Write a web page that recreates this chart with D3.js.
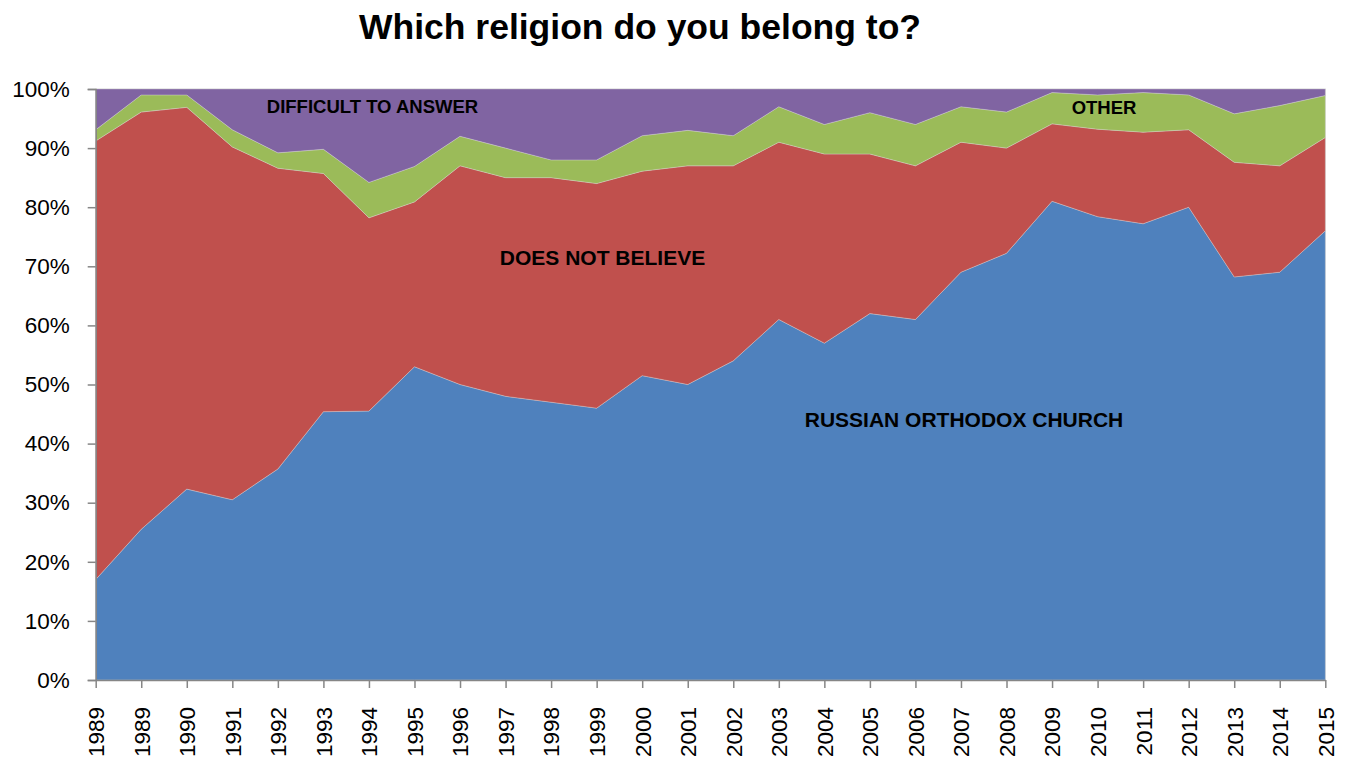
<!DOCTYPE html>
<html>
<head>
<meta charset="utf-8">
<script src="https://cdn.jsdelivr.net/npm/d3@7"></script>
<style>
  html, body { margin: 0; padding: 0; background: #ffffff; }
  svg { display: block; }
</style>
</head>
<body>
<svg id="chart" width="1352" height="760"></svg>
<script>
// ---- Data ----
const categories = ["1989","1989","1990","1991","1992","1993","1994","1995","1996","1997","1998","1999","2000","2001","2002","2003","2004","2005","2006","2007","2008","2009","2010","2011","2012","2013","2014","2015"];
const seriesNames = ["RUSSIAN ORTHODOX CHURCH", "DOES NOT BELIEVE", "OTHER", "DIFFICULT TO ANSWER"];
const orthodox  = [17, 25.5, 32.3, 30.5, 35.7, 45.4, 45.5, 53, 50, 48, 47, 46, 51.5, 50, 54, 61, 57, 62, 61, 69, 72.2, 81, 78.4, 77.2, 80, 68.2, 69, 76];
const notBelieve = [74.2, 70.6, 64.6, 59.7, 50.9, 40.3, 32.7, 27.9, 37, 37, 38, 38, 34.6, 37, 33, 30, 32, 27, 26, 22, 17.8, 13.1, 14.8, 15.5, 13.1, 19.4, 18, 15.8];
const other     = [1.9, 2.9, 2.1, 2.9, 2.6, 4.1, 6, 6, 5, 5, 3, 4, 6, 6, 5.1, 6, 5, 7, 7, 6, 6.1, 5.3, 5.8, 6.7, 5.9, 8.2, 10.2, 7.1];
const difficult = [6.9, 1, 1, 6.9, 10.8, 10.2, 15.8, 13.1, 8, 10, 12, 12, 7.9, 7, 7.9, 3, 6, 4, 6, 3, 3.9, 0.6, 1, 0.6, 1, 4.2, 2.8, 1.1];
const yTicks = [0, 0.1, 0.2, 0.3, 0.4, 0.5, 0.6, 0.7, 0.8, 0.9, 1.0];
const colors = ["#4F81BD", "#C0504D", "#9BBB59", "#8064A2"];
const title = "Which religion do you belong to?";

// ---- Layout ----
const svg = d3.select("#chart");
const margin = { left: 95.7, right: 1352 - 1325.3, top: 89, bottom: 760 - 680 };
const W = 1352, H = 760;

const table = categories.map((c, i) => ({
  idx: i, cat: c,
  s0: orthodox[i], s1: notBelieve[i], s2: other[i], s3: difficult[i]
}));

const stack = d3.stack().keys(["s0","s1","s2","s3"]).offset(d3.stackOffsetExpand);
const stacked = stack(table);

const x = d3.scaleLinear().domain([0, categories.length - 1]).range([margin.left, W - margin.right]);
const y = d3.scaleLinear().domain([0, 1]).range([H - margin.bottom, margin.top]);

const area = d3.area()
  .x(d => x(d.data.idx))
  .y0(d => y(d[0]))
  .y1(d => y(d[1]));

// plot border (light)
svg.append("rect")
  .attr("x", x(0)).attr("y", y(1))
  .attr("width", x(categories.length - 1) - x(0))
  .attr("height", y(0) - y(1))
  .attr("fill", "none").attr("stroke", "#d9d9d9").attr("stroke-width", 1);

svg.append("g").selectAll("path")
  .data(stacked)
  .join("path")
  .attr("d", area)
  .attr("fill", (d, i) => colors[i])
  .attr("stroke", "#d8d8d8")
  .attr("stroke-width", 0.6)
  .attr("stroke-opacity", 0.6);

// ---- Axes ----
const yAxis = d3.axisLeft(y).tickValues(yTicks).tickFormat(d3.format(".0%")).tickSize(8).tickPadding(18);
const gy = svg.append("g").attr("transform", `translate(${x(0)},0)`).call(yAxis);
gy.select(".domain").attr("stroke", "#868686").attr("stroke-width", 1.5);
gy.selectAll(".tick line").attr("stroke", "#868686").attr("stroke-width", 1.5);
gy.selectAll(".tick text")
  .attr("font-family", "'Liberation Sans', Arial, sans-serif")
  .attr("font-size", 22.5)
  .attr("fill", "#000");

const xAxis = d3.axisBottom(x).tickValues(d3.range(categories.length)).tickFormat(i => categories[i]).tickSize(8).tickSizeOuter(0);
const gx = svg.append("g").attr("transform", `translate(0,${y(0)})`).call(xAxis);
gx.select(".domain").attr("stroke", "#868686").attr("stroke-width", 1.5);
gx.selectAll(".tick line").attr("stroke", "#868686").attr("stroke-width", 1.5);
gx.selectAll(".tick text")
  .attr("font-family", "'Liberation Sans', Arial, sans-serif")
  .attr("font-size", 22.5)
  .attr("fill", "#000")
  .attr("text-anchor", "end")
  .attr("dy", "0.35em")
  .attr("transform", "translate(0,27) rotate(-90)")
  .attr("x", 0).attr("y", 0);

// ---- Title ----
svg.append("text")
  .attr("x", 640).attr("y", 39)
  .attr("text-anchor", "middle")
  .attr("font-family", "'Liberation Sans', Arial, sans-serif")
  .attr("font-weight", "bold")
  .attr("font-size", 35.5)
  .attr("fill", "#000")
  .text(title);

// ---- Series labels ----
const labels = [
  { name: seriesNames[3], cx: 372.5, cy: 113, size: 18.5 },
  { name: seriesNames[1], cx: 602.5, cy: 264.5, size: 21 },
  { name: seriesNames[0], cx: 964, cy: 426.5, size: 21 },
  { name: seriesNames[2], cx: 1104, cy: 114, size: 18.5 }
];
svg.append("g").selectAll("text")
  .data(labels)
  .join("text")
  .attr("x", d => d.cx).attr("y", d => d.cy)
  .attr("text-anchor", "middle")
  .attr("font-family", "'Liberation Sans', Arial, sans-serif")
  .attr("font-weight", "bold")
  .attr("font-size", d => d.size)
  .attr("fill", "#000")
  .text(d => d.name);
</script>
</body>
</html>
